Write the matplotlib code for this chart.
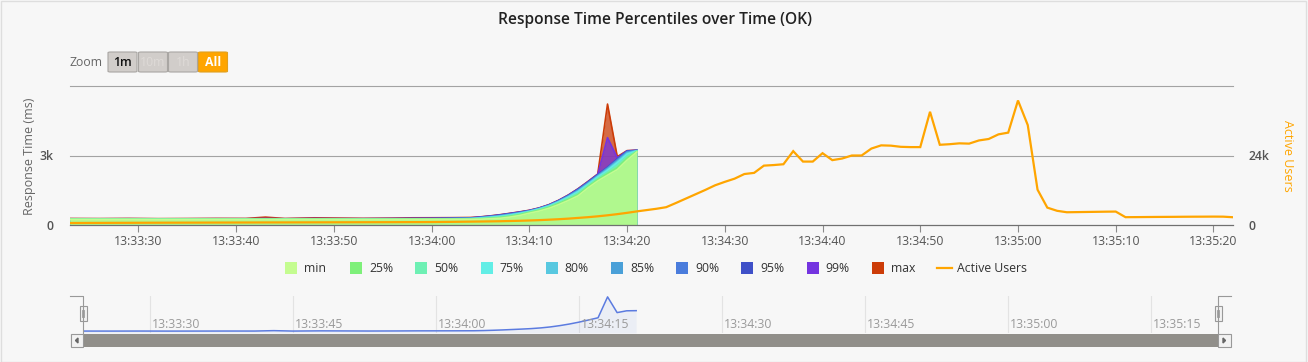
import matplotlib
matplotlib.use('Agg')
import matplotlib.pyplot as plt
import matplotlib.patches as mpatches
import matplotlib.transforms as mtransforms
from matplotlib.lines import Line2D

W, H = 1308, 362
BG = '#f7f7f7'

plt.rcParams['font.family'] = ['Open Sans', 'DejaVu Sans']

TITLE = 'Response Time Percentiles over Time (OK)'

# time in seconds relative to 13:34:00
RT_SECONDS = [-37, -34, -31, -28, -25, -22, -19, -17, -15, -12, -10, -7, -4, -2, 0, 2, 4,
              5, 6, 7, 8, 9, 10, 11, 12, 13, 14, 15, 16, 17, 18, 19, 20, 21]

RT_MIN = [240, 238, 240, 236, 238, 240, 238, 236, 238, 240, 238, 236, 238, 240, 240, 242, 246,
          250, 270, 290, 340, 410, 510, 600, 720, 880, 1060, 1260, 1600, 1900, 2150, 2390, 2800, 3150]
RT_P25 = [246, 244, 246, 242, 244, 246, 244, 242, 244, 246, 244, 242, 244, 246, 248, 250, 254,
          265, 290, 320, 375, 445, 540, 635, 760, 925, 1110, 1320, 1650, 1960, 2220, 2480, 2890, 3170]
RT_P50 = [250, 248, 250, 246, 248, 250, 248, 246, 248, 250, 248, 246, 248, 250, 252, 256, 262,
          280, 310, 345, 400, 470, 560, 660, 790, 960, 1160, 1380, 1700, 2010, 2290, 2580, 2970, 3190]
RT_P75 = [254, 252, 254, 250, 252, 254, 252, 250, 252, 254, 252, 250, 252, 256, 258, 262, 270,
          295, 330, 370, 425, 495, 580, 685, 815, 995, 1200, 1440, 1750, 2070, 2360, 2690, 3060, 3200]
RT_P80 = [256, 254, 256, 252, 254, 256, 254, 252, 254, 256, 254, 252, 256, 260, 262, 268, 276,
          305, 342, 385, 440, 510, 592, 698, 830, 1010, 1225, 1470, 1780, 2100, 2400, 2740, 3100, 3205]
RT_P85 = [258, 256, 258, 254, 256, 258, 256, 254, 256, 258, 256, 256, 260, 264, 266, 272, 282,
          315, 354, 398, 455, 522, 602, 706, 842, 1025, 1245, 1500, 1805, 2125, 2440, 2780, 3140, 3210]
RT_P90 = [260, 258, 260, 256, 258, 260, 258, 256, 258, 260, 258, 260, 264, 268, 270, 278, 290,
          325, 366, 412, 470, 535, 612, 714, 852, 1040, 1262, 1525, 1830, 2150, 2470, 2820, 3170, 3215]
RT_P95 = [264, 262, 264, 260, 262, 264, 262, 260, 262, 264, 262, 266, 270, 274, 278, 286, 300,
          338, 378, 428, 488, 550, 620, 722, 862, 1052, 1280, 1550, 1855, 2175, 2500, 2860, 3190, 3220]
RT_P99 = [270, 268, 272, 266, 268, 272, 270, 280, 270, 282, 276, 274, 280, 286, 290, 296, 310,
          345, 386, 436, 496, 558, 628, 730, 870, 1060, 1290, 1560, 1865, 2190, 3770, 2900, 3200, 3225]
RT_MAX = [280, 276, 282, 274, 278, 284, 282, 340, 280, 310, 300, 286, 296, 310, 312, 316, 324,
          352, 394, 444, 504, 566, 636, 738, 878, 1068, 1298, 1570, 1880, 2200, 5220, 2950, 3210, 3230]

SERIES_NAMES = ['min', '25%', '50%', '75%', '80%', '85%', '90%', '95%', '99%', 'max']
SERIES_COLORS = ['#c4fc90', '#7ef07a', '#6ef0b4', '#62eee6', '#58c8e0',
                 '#4aa0d8', '#4a7cdc', '#3f50c8', '#7434e0', '#cc3c08']
SERIES_VALUES = [RT_MIN, RT_P25, RT_P50, RT_P75, RT_P80, RT_P85, RT_P90, RT_P95, RT_P99, RT_MAX]

# active users, one point per second from -37 s to +82 s
USER_SECONDS = list(range(-37, 83))
USERS = [690, 700, 720, 725, 740, 750, 755, 770, 780, 790,
         800, 805, 815, 820, 830, 840, 845, 855, 860, 870,
         880, 885, 890, 900, 905, 915, 920, 930, 935, 945,
         950, 960, 965, 975, 985, 995, 1000, 1020, 1050, 1080,
         1120, 1160, 1200, 1250, 1300, 1380, 1460, 1560, 1680, 1830,
         2000, 2200, 2450, 2700, 3000, 3350, 3750, 4200, 4700, 5150,
         5600, 6150, 7600, 9100, 10600, 12100, 13700, 14900, 16000, 17600,
         18000, 20500, 20700, 20980, 25500, 21900, 21900, 24800, 22400, 22950,
         24000, 24000, 26400, 27500, 27400, 27000, 26900, 26900, 39100, 27700,
         27900, 28200, 28100, 29200, 29700, 31300, 31900, 43000, 34500, 12200,
         6000, 4900, 4400, 4450, 4500, 4550, 4600, 4640, 2700, 2720,
         2750, 2780, 2800, 2820, 2850, 2870, 2880, 2900, 2880, 2680]
USERS_COLOR = '#ffa500'

XTICK_SECONDS = [-30, -20, -10, 0, 10, 20, 30, 40, 50, 60, 70, 80]
XTICK_LABELS = ['13:33:30', '13:33:40', '13:33:50', '13:34:00', '13:34:10', '13:34:20',
                '13:34:30', '13:34:40', '13:34:50', '13:35:00', '13:35:10', '13:35:20']
NAV_TICK_SECONDS = [-30, -15, 0, 15, 30, 45, 60, 75]
NAV_TICK_LABELS = ['13:33:30', '13:33:45', '13:34:00', '13:34:15',
                   '13:34:30', '13:34:45', '13:35:00', '13:35:15']

ZOOM_BUTTONS = ['1m', '10m', '1h', 'All']

FS = 8.8


def fx(x):
    return x / W


def fy(y):
    return 1 - y / H


def px_rect(x0, y0, x1, y1, **kw):
    r = mpatches.Rectangle((fx(x0), fy(y1)), fx(x1) - fx(x0), fy(y0) - fy(y1),
                           transform=fig.transFigure, **kw)
    fig.add_artist(r)
    return r


def px_line(xs, ys, **kw):
    fig.add_artist(Line2D([fx(x) for x in xs], [fy(y) for y in ys],
                          transform=fig.transFigure, **kw))


fig = plt.figure(figsize=(W / 100, H / 100), dpi=100, facecolor=BG)

# outer border
px_rect(0.5, 0.5, W - 2.5, H - 0.5, facecolor='none', edgecolor='#dedede', lw=1)

fig.text(fx(655), fy(20), TITLE, ha='center', va='center', fontsize=11.2,
         fontweight='semibold', color='#222222')

# zoom buttons
fig.text(fx(70), fy(62.5), 'Zoom', ha='left', va='center', fontsize=FS, color='#666666')
btn_x = [108, 138.5, 168.5, 198.5]
for i, label in enumerate(ZOOM_BUTTONS):
    x0 = btn_x[i]
    active = label == 'All'
    box = mpatches.FancyBboxPatch((fx(x0), fy(72)), fx(29), fy(52) - fy(72),
                                  boxstyle='round,pad=0,rounding_size=0.002',
                                  transform=fig.transFigure,
                                  facecolor='#ffa500' if active else '#d1cdca',
                                  edgecolor='#e0a020' if active else '#a9a6a3', lw=0.8)
    fig.add_artist(box)
    if active:
        tc, fw = 'white', 'bold'
    elif i == 0:
        tc, fw = '#111111', 'semibold'
    else:
        tc, fw = '#dedad7', 'normal'
    fig.text(fx(x0 + 14.5), fy(62), label, ha='center', va='center', fontsize=FS,
             color=tc, fontweight=fw)

# main chart
ax = fig.add_axes([fx(70), fy(225), fx(1163), 139 / H])
ax.set_facecolor(BG)
ax.set_xlim(-37, 82)
ax.set_ylim(0, 6000)
for v in (3000, 6000):
    ax.axhline(v, color='#a3a3a3', lw=0.8, zorder=0.5, clip_on=False)

for vals, color in reversed(list(zip(SERIES_VALUES, SERIES_COLORS))):
    ax.fill_between(RT_SECONDS, 0, vals, color=color, alpha=0.75, lw=0, zorder=1)
    ax.plot(RT_SECONDS, vals, color=color, lw=1.2, zorder=1)

for s in ('top', 'left', 'right'):
    ax.spines[s].set_visible(False)
ax.spines['bottom'].set_color('#707070')
ax.spines['bottom'].set_linewidth(0.9)
ax.spines['bottom'].set_zorder(3)

ax.set_xticks(XTICK_SECONDS)
ax.set_xticklabels(XTICK_LABELS)
ax.tick_params(axis='x', length=5, width=0.8, color='#8a8a8a', labelcolor='#555555',
               labelsize=FS, pad=2)
ax.set_yticks([0, 3000])
ax.set_yticklabels(['0', '3k'])
ax.tick_params(axis='y', length=0, labelcolor='#555555', labelsize=FS, pad=12)
for lab in ax.get_yticklabels():
    lab.set_fontweight('semibold')

ax2 = ax.twinx()
ax2.set_ylim(0, 48000)
ax2.plot(USER_SECONDS, USERS, color=USERS_COLOR, lw=1.6, zorder=4, solid_joinstyle='miter')
for s in ax2.spines.values():
    s.set_visible(False)
ax2.set_yticks([0, 24000])
ax2.set_yticklabels(['0', '24k'])
ax2.tick_params(axis='y', length=0, labelcolor='#555555', labelsize=FS, pad=11)
for lab in ax2.get_yticklabels():
    lab.set_fontweight('semibold')

fig.text(fx(29), fy(156), 'Response Time (ms)', rotation=90, ha='center', va='center',
         fontsize=9.0, color='#666666')
fig.text(fx(1287), fy(156), 'Active Users', rotation=270, ha='center', va='center',
         fontsize=9.0, color=USERS_COLOR)

# legend
for i, (name, color) in enumerate(zip(SERIES_NAMES, SERIES_COLORS)):
    x0 = 285 + i * 65.2
    px_rect(x0, 262, x0 + 12, 274, facecolor=color, edgecolor='none')
    fig.text(fx(x0 + 19), fy(268.5), name, ha='left', va='center', fontsize=FS, color='#333333')
lx = 285 + 10 * 65.2
px_line([lx, lx + 15], [268, 268], color=USERS_COLOR, lw=1.6)
fig.text(fx(lx + 20), fy(268.5), 'Active Users', ha='left', va='center', fontsize=FS,
         color='#333333')

# navigator
nav = fig.add_axes([fx(83), fy(333), fx(1135), 37 / H])
nav.set_facecolor(BG)
nav.set_xlim(-37, 82)
nav.set_ylim(0, 5350)
nav.set_xticks([])
nav.set_yticks([])
for s in nav.spines.values():
    s.set_visible(False)
lab_tr = mtransforms.offset_copy(nav.get_xaxis_transform(), fig=fig, x=2, y=1.5, units='dots')
for t, lab in zip(NAV_TICK_SECONDS, NAV_TICK_LABELS):
    nav.axvline(t, color='#e3e3e3', lw=0.8, zorder=0)
    nav.text(t, 0, lab, transform=lab_tr, ha='left', va='bottom', fontsize=FS, color='#9a9a9a')
nav.fill_between(RT_SECONDS, 0, RT_MAX, color='#5b7be0', alpha=0.07, lw=0, zorder=1)
nav.plot(RT_SECONDS, RT_MAX, color='#5b7be0', lw=1.1, zorder=2)

# navigator outline and handles
px_line([70, 83, 83], [296, 296, 334], color='#999999', lw=0.8)
px_line([1231, 1218, 1218], [296, 296, 334], color='#999999', lw=0.8)
for hx in (83, 1218):
    px_rect(hx - 3.5, 306, hx + 3.5, 321, facecolor='#f2f2f2', edgecolor='#999999', lw=0.8)
    px_line([hx - 1, hx - 1], [310, 317], color='#999999', lw=0.6)
    px_line([hx + 1, hx + 1], [310, 317], color='#999999', lw=0.6)

# scrollbar
px_rect(70, 334, 1231, 347, facecolor='#f2f2f2', edgecolor='none')
px_rect(83, 334, 1218, 347, facecolor='#918f8a', edgecolor='none')
px_rect(70.5, 334, 83, 347, facecolor='#f2f2f2', edgecolor='#999999', lw=0.8)
px_rect(1218, 334, 1230.5, 347, facecolor='#f2f2f2', edgecolor='#999999', lw=0.8)
fig.add_artist(mpatches.Polygon([(fx(78), fy(338)), (fx(78), fy(343)), (fx(75.5), fy(340.5))],
                                transform=fig.transFigure, color='#666666'))
fig.add_artist(mpatches.Polygon([(fx(1223), fy(338)), (fx(1223), fy(343)), (fx(1225.5), fy(340.5))],
                                transform=fig.transFigure, color='#666666'))

fig.savefig('out.png', dpi=100, facecolor=BG)
